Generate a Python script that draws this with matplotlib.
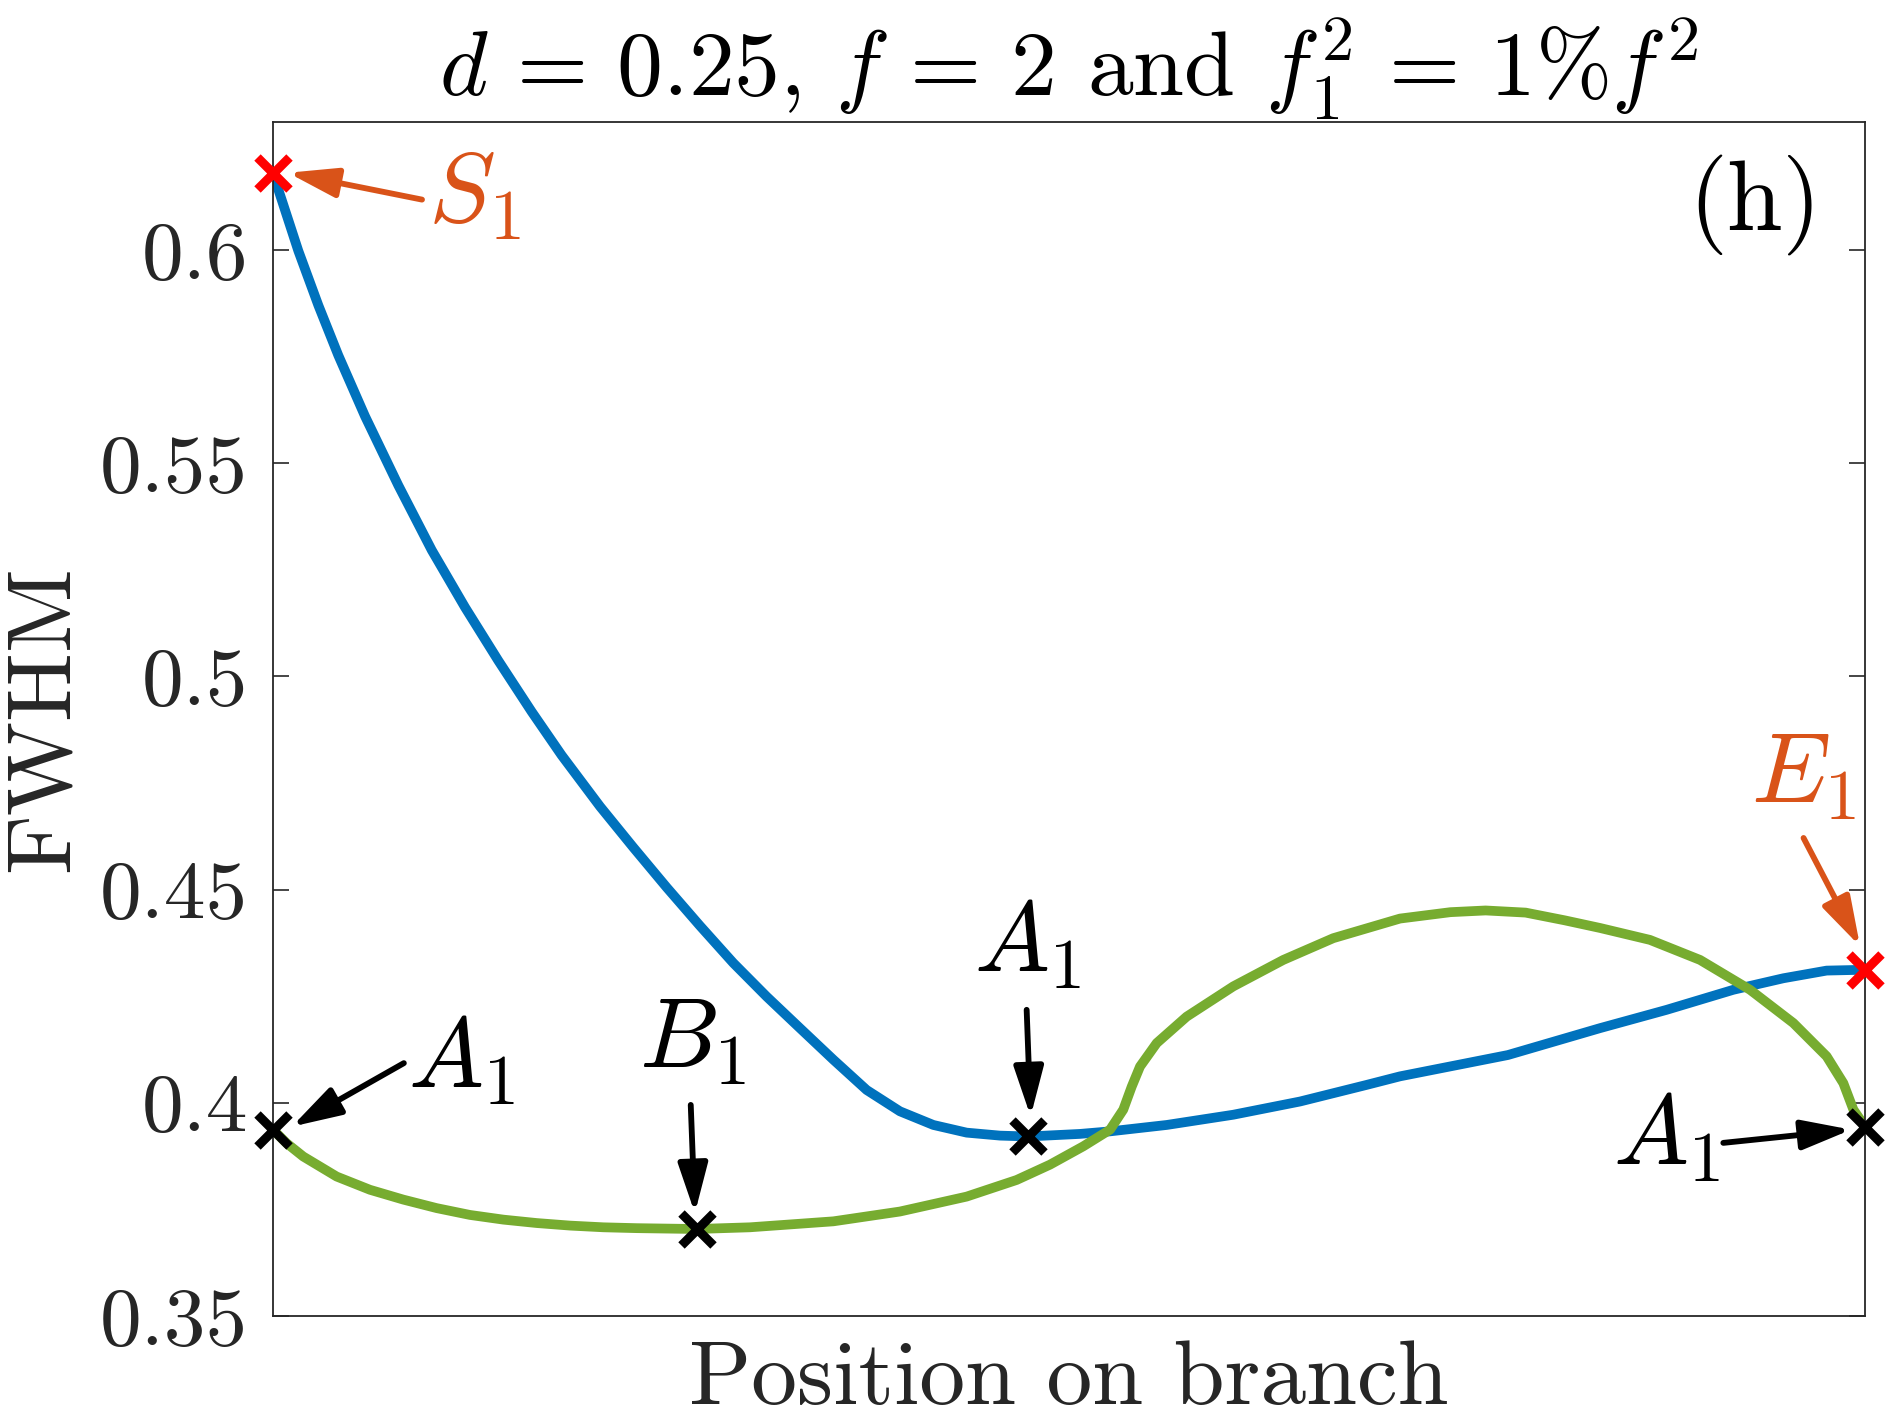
import matplotlib
matplotlib.use('Agg')
import matplotlib.pyplot as plt
from matplotlib.patches import ArrowStyle

# branch 1 (blue): S1 -> A1 -> E1
blue_x = [0, 0.0159, 0.0285, 0.0410, 0.0578, 0.0787, 0.0997, 0.1206, 0.1415, 0.1625,
          0.1813, 0.2054, 0.2263, 0.2473, 0.2682, 0.2891, 0.3101, 0.3310, 0.3520, 0.3729,
          0.3938, 0.4148, 0.4357, 0.4567, 0.4744, 0.5069, 0.5258, 0.5614, 0.6032, 0.6451,
          0.6870, 0.7079, 0.7757, 0.8335, 0.8754, 0.9173, 0.9487, 0.9759, 1.0]
blue_y = [0.6180, 0.5998, 0.5870, 0.5753, 0.5610, 0.5448, 0.5296, 0.5162, 0.5037, 0.4917,
          0.4815, 0.4695, 0.4599, 0.4505, 0.4415, 0.4328, 0.4249, 0.4175, 0.4101, 0.4030,
          0.3980, 0.3948, 0.3930, 0.3923, 0.3921, 0.3927, 0.3933, 0.3948, 0.3972, 0.4003,
          0.4042, 0.4062, 0.4112, 0.4175, 0.4218, 0.4265, 0.4292, 0.4310, 0.4312]

# branch 2 (green): A1 -> B1 -> ... -> A1
green_x = [0, 0.0086, 0.0190, 0.0400, 0.0609, 0.0818, 0.1028, 0.1237, 0.1447, 0.1656,
           0.1866, 0.2075, 0.2285, 0.2661, 0.2996, 0.3520, 0.3938, 0.4357, 0.4671, 0.4881,
           0.509, 0.5258, 0.5341, 0.5394, 0.5446, 0.5551, 0.5739, 0.6032, 0.6346, 0.6660,
           0.7079, 0.7396, 0.7617, 0.7868, 0.8112, 0.8335, 0.8649, 0.8964, 0.9278, 0.9550,
           0.9759, 0.9864, 0.9927, 1.0]
green_y = [0.3937, 0.3905, 0.3874, 0.3827, 0.3796, 0.3773, 0.3753, 0.3737, 0.3726, 0.3718,
           0.3712, 0.3708, 0.3706, 0.3704, 0.3708, 0.3722, 0.3745, 0.3780, 0.3819, 0.3855,
           0.3898, 0.3937, 0.3984, 0.4038, 0.4085, 0.4140, 0.4202, 0.4273, 0.4335, 0.4386,
           0.4432, 0.4447, 0.4451, 0.4446, 0.4428, 0.4410, 0.4382, 0.4335, 0.4265, 0.4187,
           0.4109, 0.4046, 0.3984, 0.3944]

# special points (indices into the branches)
red_pts = [('blue', 0), ('blue', -1)]                           # S1, E1
black_pts = [('green', 0), ('green', -1), ('blue', 24), ('green', 13)]  # A1, A1, A1, B1

yticks = [0.35, 0.4, 0.45, 0.5, 0.55, 0.6]
ytick_labels = ['0.35', '0.4', '0.45', '0.5', '0.55', '0.6']

# label, text pos, arrow tail, arrow head, colour
notes = [
    (r'$S_1$', (0.0974, 0.6063), (0.0936, 0.6118), (0.0094, 0.6181), '#D95319'),
    (r'$E_1$', (0.9284, 0.4703), (0.9614, 0.4621), (0.9969, 0.4367), '#D95319'),
    (r'$A_1$', (0.0847, 0.4034), (0.0822, 0.4093), (0.0118, 0.3944), 'k'),
    (r'$B_1$', (0.2300, 0.4081), (0.2624, 0.3995), (0.2650, 0.3741), 'k'),
    (r'$A_1$', (0.4405, 0.4307), (0.4734, 0.4218), (0.4759, 0.3968), 'k'),
    (r'$A_1$', (0.8419, 0.3855), (0.9110, 0.3906), (0.9913, 0.3937), 'k'),
]

plt.rcParams['font.family'] = 'serif'
plt.rcParams['font.serif'] = ['cmr10']
plt.rcParams['mathtext.fontset'] = 'cm'
plt.rcParams['axes.formatter.use_mathtext'] = True

fig = plt.figure(figsize=(18.85, 14.18), dpi=100)
ax = fig.add_axes([273 / 1885, 102 / 1418, 1592 / 1885, 1194 / 1418])

ax.plot(blue_x, blue_y, color='#0072BD', lw=7, solid_capstyle='round',
        solid_joinstyle='round')
ax.plot(green_x, green_y, color='#77AC30', lw=7, solid_capstyle='round',
        solid_joinstyle='round')

series = {'blue': (blue_x, blue_y), 'green': (green_x, green_y)}
for name, i in red_pts:
    ax.plot(series[name][0][i], series[name][1][i], 'x', color='#FF0000',
            ms=23, mew=6.5, clip_on=False, zorder=5)
for name, i in black_pts:
    ax.plot(series[name][0][i], series[name][1][i], 'x', color='k',
            ms=23, mew=6.5, clip_on=False, zorder=5)

head = ArrowStyle('-|>', head_length=1.0, head_width=0.3)
for label, tpos, tail, tip, col in notes:
    ax.annotate('', xy=tip, xytext=tail,
                arrowprops=dict(arrowstyle=head, color=col, lw=4.2,
                                mutation_scale=30, shrinkA=0, shrinkB=0))
    ax.text(tpos[0], tpos[1], label, color=col, fontsize=72,
            ha='left', va='baseline')

ax.text(0.931, 0.6106, '(h)', fontsize=72, ha='center', va='center')

ax.set_xlim(0, 1)
ax.set_ylim(0.35, 0.63)
ax.set_xticks([])
ax.set_yticks(yticks)
ax.set_yticklabels(ytick_labels)
ax.tick_params(axis='y', which='both', direction='in', length=11.5, width=1.2,
               left=True, right=True, pad=18, labelsize=60, labelcolor='#262626',
               color='#262626')
for sp in ax.spines.values():
    sp.set_linewidth(1.3)
    sp.set_color('#262626')

ax.set_xlabel('Position on branch', fontsize=66, color='#262626')
ax.xaxis.set_label_coords(0.5, -0.02)
ax.set_ylabel('FWHM', fontsize=66, color='#262626')
ax.yaxis.set_label_coords(-0.118, 0.5)
ax.set_title(r'$d\,=\,0.25$, $f\,=\,2$ and $f_1^2\,=\,1\%f^2$', fontsize=66, pad=18)

fig.savefig('out.png', dpi=100)
